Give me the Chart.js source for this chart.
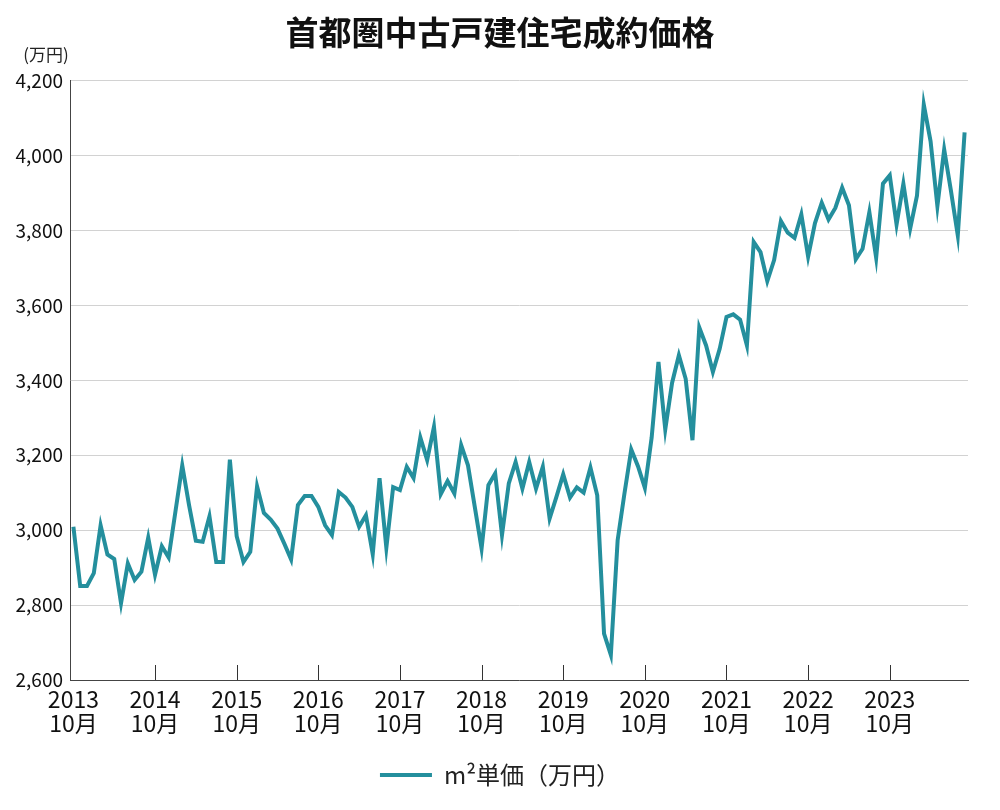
<!DOCTYPE html>
<html>
<head>
<meta charset="utf-8">
<script src="https://cdn.jsdelivr.net/npm/chart.js@4.4.1/dist/chart.umd.min.js"></script>
<style>
  html, body { margin: 0; padding: 0; background: #fff; }
  #wrap { width: 1000px; height: 810px; position: relative; }
</style>
</head>
<body>
<div id="wrap"><canvas id="c" width="1000" height="810"></canvas></div>
<script>
// ---- data (monthly, 2013-10 .. 2024-09) ----
const startYear = 2013;
const startMonth = 10;
const tickYears = ['2013','2014','2015','2016','2017','2018','2019','2020','2021','2022','2023'];
const tickMonthLabel = '10月';
const yTicks = [2600, 2800, 3000, 3200, 3400, 3600, 3800, 4000, 4200];
const seriesName = 'm²単価（万円）';
const unitLabel = '(万円)';
const titleText = '首都圏中古戸建住宅成約価格';
const priceValues = [
  3009, 2851, 2851, 2885, 3013, 2935, 2923, 2805, 2911, 2867, 2889, 2980,
  2881, 2957, 2927, 3050, 3173, 3067, 2972, 2969, 3037, 2915, 2915, 3188,
  2984, 2915, 2942, 3117, 3046, 3028, 3004, 2964, 2922, 3067, 3091, 3091,
  3062, 3013, 2987, 3102, 3087, 3062, 3009, 3040, 2936, 3139, 2953, 3115,
  3107, 3169, 3139, 3247, 3187, 3276, 3096, 3131, 3098, 3227, 3173, 3062,
  2951, 3120, 3151, 2987, 3125, 3182, 3111, 3182, 3111, 3169, 3031, 3089,
  3149, 3087, 3114, 3100, 3167, 3093, 2724, 2667, 2973, 3098, 3215, 3170,
  3113, 3247, 3449, 3269, 3393, 3467, 3404, 3240, 3541, 3493, 3422, 3484,
  3569, 3576, 3562, 3493, 3769, 3742, 3665, 3721, 3825, 3794, 3780, 3843,
  3730, 3819, 3874, 3829, 3860, 3914, 3867, 3723, 3751, 3849, 3727, 3925,
  3947, 3816, 3925, 3805, 3893, 4136, 4038, 3865, 4016, 3905, 3787, 4062
];

const monthLabels = priceValues.map((_, i) => {
  const m0 = startMonth - 1 + i;
  const y = startYear + Math.floor(m0 / 12);
  const m = (m0 % 12) + 1;
  return y + '-' + String(m).padStart(2, '0');
});

const FONT = '"Noto Sans CJK JP", "Noto Sans", sans-serif';
const LINE_COLOR = '#248f9d';

const extras = {
  id: 'extras',
  beforeDatasetsDraw(chart) {
    const ctx = chart.ctx;
    const xs = chart.scales.x;
    const area = chart.chartArea;
    ctx.save();
    ctx.strokeStyle = '#333';
    ctx.lineWidth = 1;
    for (let i = 12; i < monthLabels.length; i += 12) {
      const px = Math.round(xs.getPixelForValue(i)) + 0.5;
      ctx.beginPath();
      ctx.moveTo(px, area.bottom);
      ctx.lineTo(px, area.bottom - 15);
      ctx.stroke();
    }
    ctx.restore();
  },
  afterDraw(chart) {
    const ctx = chart.ctx;
    const area = chart.chartArea;
    ctx.save();
    ctx.fillStyle = '#222';
    ctx.font = '17px ' + FONT;
    ctx.textAlign = 'center';
    ctx.textBaseline = 'middle';
    ctx.fillText(unitLabel, area.left - 24, area.top - 26);
    ctx.restore();
  }
};

new Chart(document.getElementById('c'), {
  type: 'line',
  data: {
    labels: monthLabels,
    datasets: [{
      label: seriesName,
      data: priceValues,
      borderColor: LINE_COLOR,
      backgroundColor: LINE_COLOR,
      borderWidth: 4,
      pointRadius: 0,
      tension: 0,
      fill: false
    }]
  },
  options: {
    responsive: false,
    animation: false,
    layout: { padding: { left: 0, right: 0, top: 0, bottom: 13 } },
    plugins: {
      title: {
        display: true,
        text: titleText,
        color: '#111',
        font: { family: FONT, size: 33, weight: 'bold' },
        padding: { top: 13, bottom: 28 }
      },
      legend: {
        position: 'bottom',
        labels: {
          color: '#222',
          font: { family: FONT, size: 24 },
          boxWidth: 52,
          boxHeight: 4,
          padding: 8,
          generateLabels(chart) {
            return chart.data.datasets.map((ds, i) => ({
              text: ds.label,
              fillStyle: ds.borderColor,
              strokeStyle: ds.borderColor,
              lineWidth: 0,
              fontColor: '#222',
              hidden: false,
              datasetIndex: i
            }));
          }
        }
      },
      tooltip: { enabled: false }
    },
    scales: {
      x: {
        type: 'category',
        offset: true,
        grid: { display: false, drawTicks: false },
        border: { display: true, color: '#444', width: 1 },
        afterFit(scale) { scale.height = 75; },
        ticks: {
          autoSkip: false,
          maxRotation: 0,
          minRotation: 0,
          padding: 8,
          color: '#111',
          font: { family: FONT, size: 23, lineHeight: 1.02 },
          callback(value, index) {
            if (index % 12 === 0) {
              return [tickYears[index / 12], tickMonthLabel];
            }
            return null;
          }
        }
      },
      y: {
        min: yTicks[0],
        max: yTicks[yTicks.length - 1],
        afterFit(scale) { scale.width = 70; },
        afterBuildTicks(scale) { scale.ticks = yTicks.map(v => ({ value: v })); },
        grid: { color: '#d2d2d2', lineWidth: 1, drawTicks: false },
        border: { display: true, color: '#444', width: 1 },
        ticks: {
          padding: 7,
          color: '#111',
          font: { family: FONT, size: 19 },
          callback(v) { return Number(v).toLocaleString('en-US'); }
        }
      },
      yRight: {
        position: 'right',
        display: true,
        min: yTicks[0],
        max: yTicks[yTicks.length - 1],
        afterFit(scale) { scale.width = 32; },
        grid: { display: false, drawTicks: false },
        border: { display: false },
        ticks: { display: false }
      }
    }
  },
  plugins: [extras]
});
</script>
</body>
</html>
